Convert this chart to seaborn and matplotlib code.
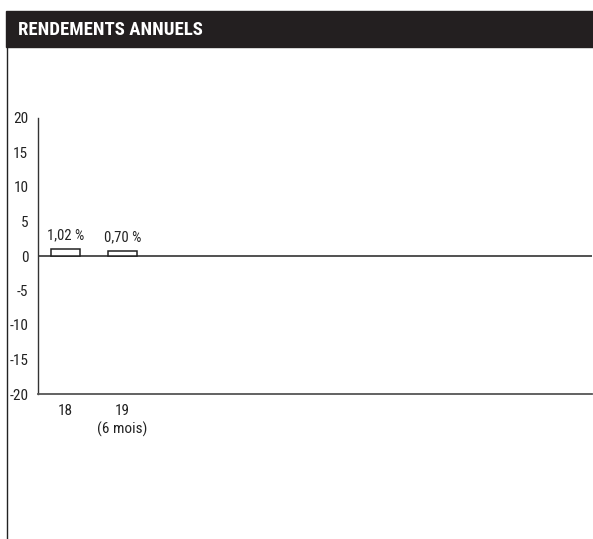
import numpy as np
import pandas as pd
import seaborn as sns
import matplotlib.pyplot as plt
from matplotlib.patches import Rectangle
from matplotlib.lines import Line2D
from matplotlib import font_manager

# data
years = ["18", "19\n(6 mois)"]
returns = [1.02, 0.70]
value_labels = ["1,02 %", "0,70 %"]
y_ticks = [20, 15, 10, 5, 0, -5, -10, -15, -20]

sns.set_theme(style="white")
names = {f.name for f in font_manager.fontManager.ttflist}
narrow = [n for n in ['Liberation Sans Narrow', 'Roboto Condensed', 'DejaVu Sans'] if n in names]
plt.rcParams['font.family'] = narrow
plt.rcParams['font.stretch'] = 'condensed'

W, H = 593, 539
fig = plt.figure(figsize=(W / 100, H / 100), dpi=100)

# axes placed in pixel terms
left, right, top, bottom = 38, 592, 118, 394
ax = fig.add_axes([left / W, 1 - bottom / H, (right - left) / W, (bottom - top) / H])

df = pd.DataFrame({"annee": years, "rendement": returns})
sns.barplot(data=df, x="annee", y="rendement", ax=ax, width=0.5,
            color="white", edgecolor="#222222", linewidth=1.1, saturation=1)

for i, (v, lab) in enumerate(zip(returns, value_labels)):
    ax.text(i, v + 1.0, lab, ha="center", va="bottom", fontsize=10.5, color="#222222")

ax.axhline(0, color="#222222", lw=1.1, zorder=0)
ax.set_ylim(-20, 20)
ax.set_xlim(-0.48, 9.25)
ax.set_yticks(y_ticks)
ax.set_yticklabels([str(t) for t in y_ticks], fontsize=11, color="#222222")
ax.tick_params(axis="y", length=0, pad=7)
ax.tick_params(axis="x", length=0, pad=7.5, labelsize=11, labelcolor="#222222")
for lab in ax.get_xticklabels():
    lab.set_linespacing(1.3)
ax.set_xlabel("")
ax.set_ylabel("")
ax.set_facecolor("none")
for s in ["top", "right"]:
    ax.spines[s].set_visible(False)
ax.spines["left"].set_color("#333333")
ax.spines["left"].set_linewidth(1.0)
ax.spines["bottom"].set_color("#555555")
ax.spines["bottom"].set_linewidth(1.3)

# header bar and left frame line
fig.add_artist(Rectangle((6 / W, 1 - 47 / H), (W - 6) / W, 36 / H,
                         transform=fig.transFigure, color="#231f20", zorder=0))
fig.text(18 / W, 1 - 30 / H, "RENDEMENTS ANNUELS", color="white", fontsize=13.5,
         fontweight="bold", va="center", ha="left")
fig.add_artist(Line2D([7 / W, 7 / W], [0, 1 - 47 / H], transform=fig.transFigure,
                      color="#222222", lw=1.0))

fig.savefig("out.png", dpi=100)
